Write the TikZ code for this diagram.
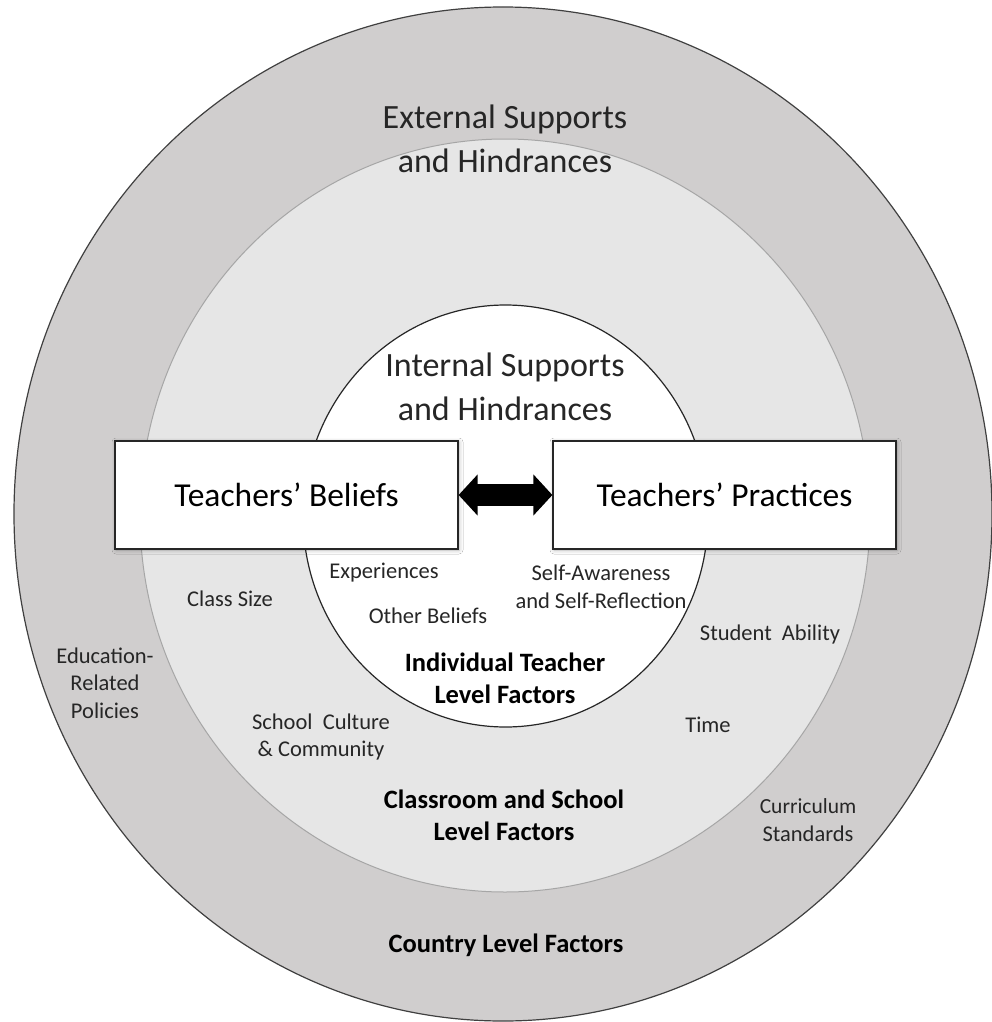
\documentclass[tikz,border=0pt]{standalone}
\usepackage{fontspec}
\setmainfont{Carlito}
\usetikzlibrary{arrows.meta,shadows.blur}
\definecolor{countrygray}{HTML}{D0CECE}
\definecolor{schoolgray}{HTML}{E6E6E6}
\definecolor{ringline}{HTML}{A6A6A6}
\definecolor{textgray}{HTML}{262626}

\begin{document}
\begin{tikzpicture}[x=1pt,y=-1pt]
\useasboundingbox (0,0) rectangle (992,1022);
\fill[white] (0,0) rectangle (992,1022);
% rings
\draw[fill=countrygray, draw=black!75, line width=1.2pt] (503,514) ellipse [x radius=489, y radius=507];
\draw[fill=schoolgray, draw=ringline, line width=1pt] (505,515.5) ellipse [x radius=365, y radius=376.5];
\draw[fill=white, draw=black!85, line width=1.2pt] (505.5,516) ellipse [x radius=202.5, y radius=211];
 \begin{scope}[every node/.style={draw=textgray, line width=1.2pt, fill=white,
     minimum width=343pt, minimum height=108pt, inner sep=0pt, text=black,
     blur shadow={shadow xshift=1pt, shadow yshift=-1pt, shadow blur radius=4pt, shadow opacity=30},
     font=\fontsize{33.5}{40}\selectfont}]
  \node (beliefs) at (286.5,495) {Teachers’ Beliefs};
  \node (practices) at (724.5,495) {Teachers’ Practices};
 \end{scope}
 % arrow drawn unflipped
 \begin{scope}[yscale=-1]
  \draw [line width=22pt, draw=black,
    {Triangle[width=40pt,length=19pt]}-{Triangle[width=40pt,length=19pt]}]
    (beliefs.east) -- (practices.west);
 \end{scope}
 \begin{scope}[every node/.style={align=center, inner sep=0pt, text=textgray,
     font=\fontsize{34}{44}\selectfont}]
  \node (external) at (505,139) {External Supports\\and Hindrances};
  \node (internal) at (505,387) {Internal Supports\\and Hindrances};
 \end{scope}
 \begin{scope}[every node/.style={align=center, inner sep=0pt, text=textgray,
     font=\fontsize{22.5}{27.5}\selectfont}]
  \node (experiences) at (384,573) {Experiences};
  \node (otherbeliefs) at (428,616) {Other Beliefs};
  \node (selfaware) at (601,587) {Self-Awareness\\and Self-Reflection};
  \node (classsize) at (230,599) {Class Size};
  \node (ability) at (770,634) {Student\ \ Ability};
  \node (policies) at (105,683) {Education-\\Related\\Policies};
  \node (culture) at (321,737) {School\ \ Culture\\\&\ Community};
  \node (time) at (708,725) {Time};
  \node (curriculum) at (808,820) {\fontsize{21.5}{26.5}\selectfont Curriculum\\Standards};
 \end{scope}
 \begin{scope}[every node/.style={align=center, inner sep=0pt, text=black,
     font=\bfseries\fontsize{26.5}{32}\selectfont}]
  \node (teacherlevel) at (505,678) {Individual Teacher\\Level Factors};
  \node (schoollevel) at (504,815) {Classroom and School\\Level Factors};
  \node (countrylevel) at (506,945) {Country Level Factors};
 \end{scope}
\end{tikzpicture}
\end{document}
